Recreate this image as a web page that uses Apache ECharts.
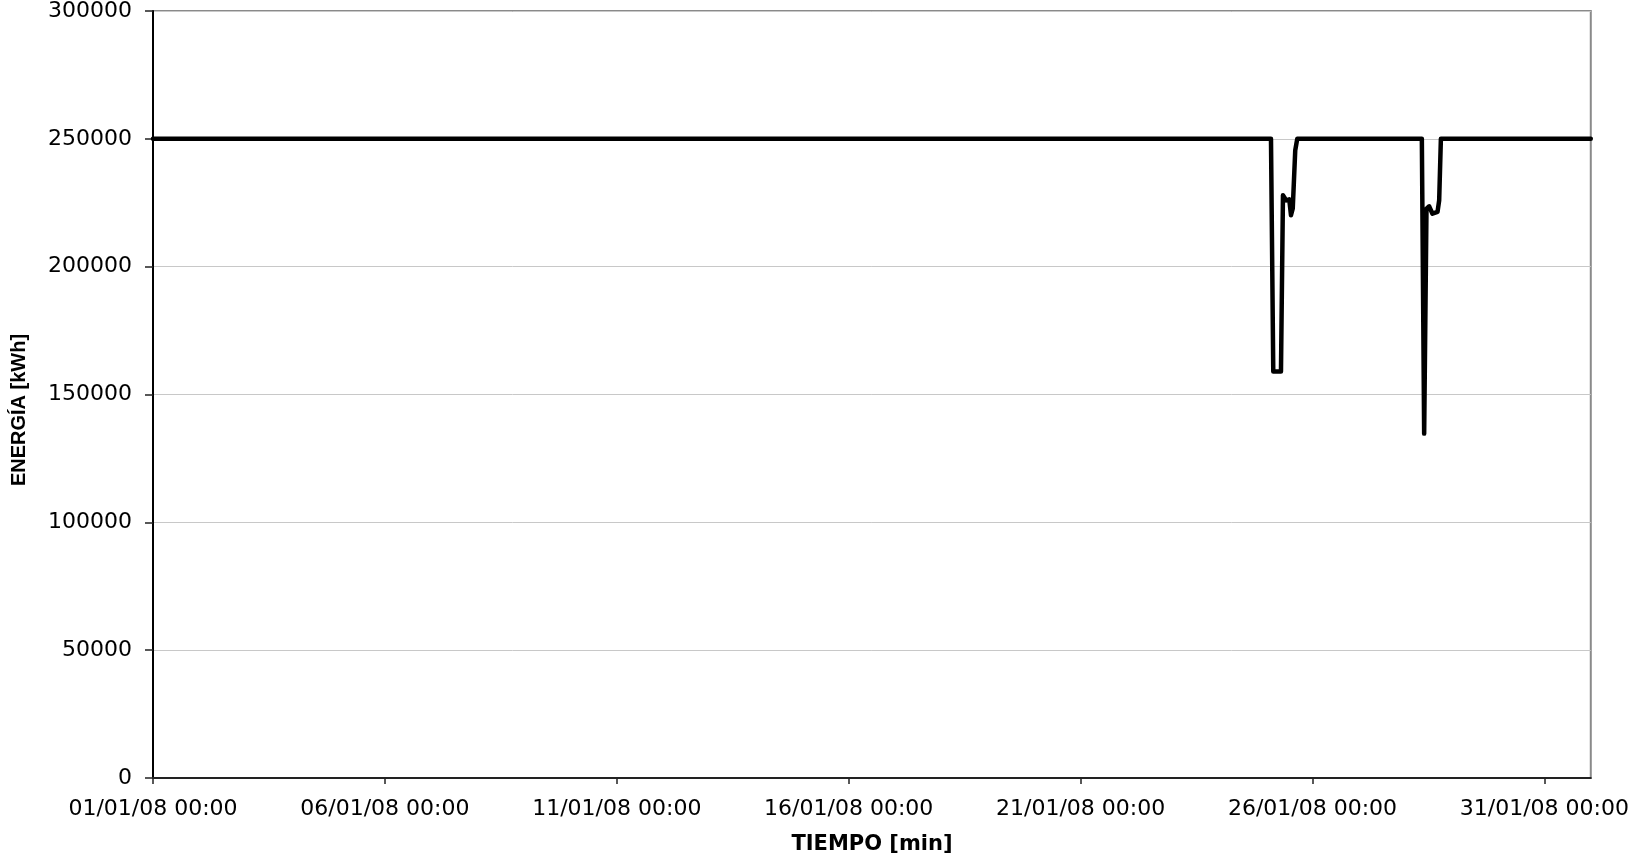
<!DOCTYPE html>
<html>
<head>
<meta charset="utf-8">
<script src="https://cdn.jsdelivr.net/npm/echarts@6/dist/echarts.min.js"></script>
<style>
html,body{margin:0;padding:0;background:#fff;}
#chart{width:1632px;height:859px;}
</style>
</head>
<body>
<div id="chart"></div>
<script>
// Time stamps (dd/mm/yyyy hh:mm) and energy values [kWh]
const times = [
  '01/01/2008 00:00',
  '25/01/2008 02:31',
  '25/01/2008 03:42',
  '25/01/2008 07:41',
  '25/01/2008 08:43',
  '25/01/2008 10:25',
  '25/01/2008 11:59',
  '25/01/2008 12:52',
  '25/01/2008 13:47',
  '25/01/2008 15:04',
  '25/01/2008 16:06',
  '28/01/2008 08:35',
  '28/01/2008 09:47',
  '28/01/2008 10:59',
  '28/01/2008 12:23',
  '28/01/2008 14:05',
  '28/01/2008 16:41',
  '28/01/2008 17:33',
  '28/01/2008 18:26',
  '01/02/2008 00:00'
];
const energy = [
  250000,
  250000,
  159000,
  159000,
  227900,
  225900,
  226300,
  220100,
  222800,
  245500,
  250000,
  250000,
  134700,
  222700,
  223600,
  220700,
  221400,
  225900,
  250000,
  250000
];
const xTickLabels = ['01/01/08 00:00','06/01/08 00:00','11/01/08 00:00','16/01/08 00:00','21/01/08 00:00','26/01/08 00:00','31/01/08 00:00'];
const yTickValues = [0, 50000, 100000, 150000, 200000, 250000, 300000];

const startMs = Date.UTC(2008, 0, 1, 0, 0);
function toDays(s) {
  const [d, t] = s.split(' ');
  const [dd, mm, yy] = d.split('/').map(Number);
  const [hh, mi] = t.split(':').map(Number);
  return (Date.UTC(yy, mm - 1, dd, hh, mi) - startMs) / 86400000;
}
const seriesData = times.map((t, i) => [toDays(t), energy[i]]);

const chart = echarts.init(document.getElementById('chart'), null, {renderer: 'canvas'});
chart.setOption({
  animation: false,
  backgroundColor: '#ffffff',
  grid: {left: 153, top: 11, right: 40, bottom: 81, show: true, borderColor: '#8a8a8a', borderWidth: 2, backgroundColor: 'transparent'},
  xAxis: {
    type: 'value',
    min: 0,
    max: 31,
    interval: 5,
    axisLine: {show: true, onZero: false, lineStyle: {color: '#222', width: 2}},
    axisTick: {show: true, inside: false, length: 6, lineStyle: {color: '#222', width: 1.5}},
    axisLabel: {
      margin: 20,
      color: '#000',
      fontFamily: 'DejaVu Sans',
      fontSize: 22,
      showMaxLabel: false,
      formatter: v => xTickLabels[Math.round(v / 5)] || ''
    },
    splitLine: {show: false}
  },
  yAxis: {
    type: 'value',
    min: yTickValues[0],
    max: yTickValues[yTickValues.length - 1],
    interval: 50000,
    axisLine: {show: true, onZero: false, lineStyle: {color: '#000', width: 2}},
    axisTick: {show: true, inside: false, length: 8, lineStyle: {color: '#222', width: 1.5}},
    axisLabel: {margin: 21, color: '#000', fontFamily: 'DejaVu Sans', fontSize: 22,
                formatter: v => String(v)},
    splitLine: {show: true, lineStyle: {color: '#c8c8c8', width: 1}}
  },
  graphic: [
    {type: 'text', x: 19, y: 410, rotation: Math.PI / 2,
     style: {text: 'ENERGÍA [kWh]', textAlign: 'center', textVerticalAlign: 'middle',
             font: 'bold 20px "Liberation Sans"', fill: '#000'}},
    {type: 'text', x: 872, y: 845,
     style: {text: 'TIEMPO [min]', textAlign: 'center', textVerticalAlign: 'middle',
             font: 'bold 21px "DejaVu Sans"', fill: '#000'}}
  ],
  series: [{
    type: 'line',
    data: seriesData,
    showSymbol: false,
    symbol: 'none',
    lineStyle: {color: '#000', width: 4.5, join: 'round', cap: 'round'},
    itemStyle: {color: '#000'}
  }]
});
</script>
</body>
</html>
